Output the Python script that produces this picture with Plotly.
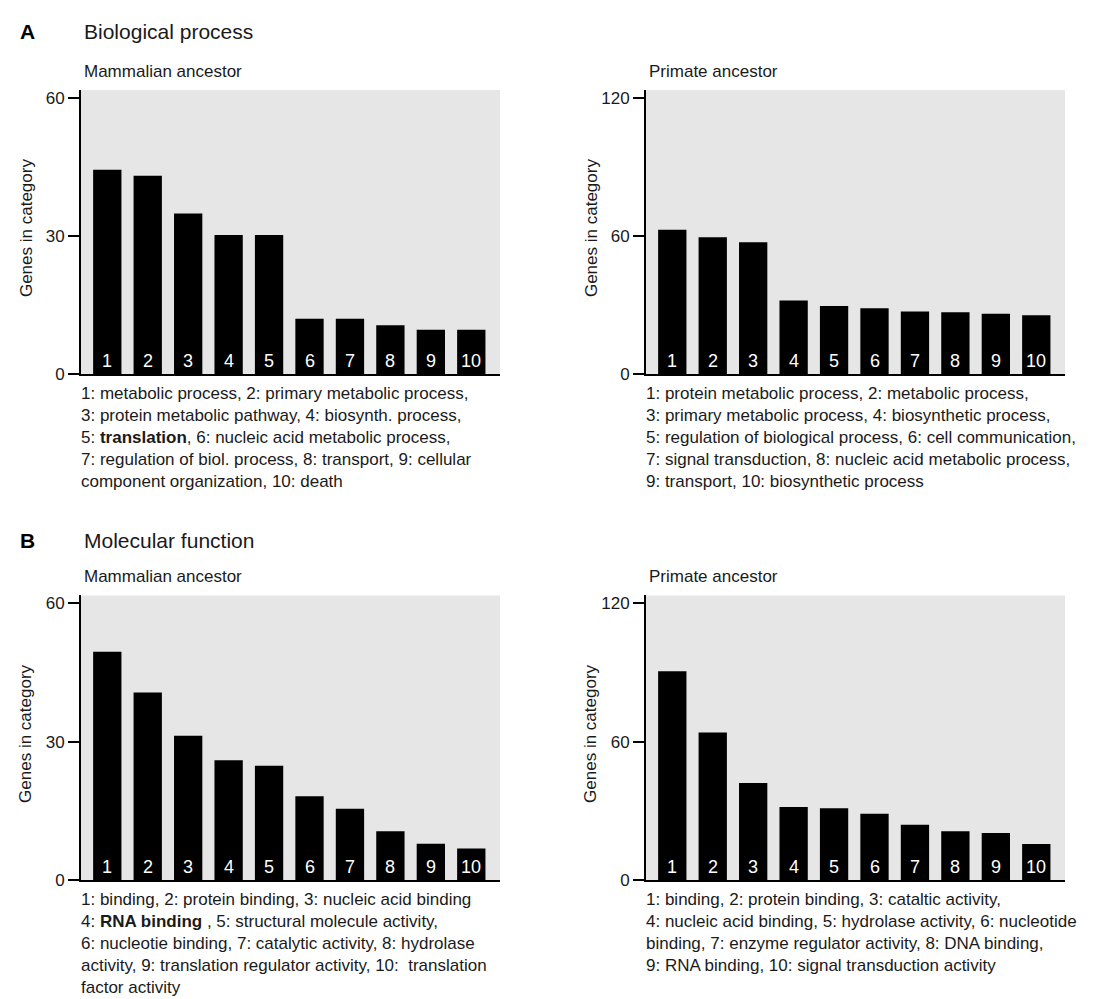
import plotly.graph_objects as go

# ---------------- data ----------------
categories = [1, 2, 3, 4, 5, 6, 7, 8, 9, 10]
category_labels = ["1", "2", "3", "4", "5", "6", "7", "8", "9", "10"]

bio_mammal = [44.4, 43.1, 34.9, 30.2, 30.2, 12.0, 12.0, 10.6, 9.6, 9.6]
bio_primate = [62.7, 59.4, 57.3, 31.9, 29.5, 28.6, 27.1, 26.8, 26.2, 25.5]
mol_mammal = [49.5, 40.7, 31.3, 26.0, 24.8, 18.2, 15.5, 10.6, 7.9, 6.9]
mol_primate = [90.6, 64.0, 42.2, 31.8, 31.2, 28.8, 24.1, 21.3, 20.5, 15.7]

ticks_60 = [0, 30, 60]
ticks_120 = [0, 60, 120]

panel_titles = ["Mammalian ancestor", "Primate ancestor",
                "Mammalian ancestor", "Primate ancestor"]
section_letters = ["A", "B"]
section_titles = ["Biological process", "Molecular function"]
y_title = "Genes in category"

legend_texts = [
    "1: metabolic process, 2: primary metabolic process,<br>"
    "3: protein metabolic pathway, 4: biosynth. process,<br>"
    "5: <b>translation</b>, 6: nucleic acid metabolic process,<br>"
    "7: regulation of biol. process, 8: transport, 9: cellular<br>"
    "component organization, 10: death",
    "1: protein metabolic process, 2: metabolic process,<br>"
    "3: primary metabolic process, 4: biosynthetic process,<br>"
    "5: regulation of biological process, 6: cell communication,<br>"
    "7: signal transduction, 8: nucleic acid metabolic process,<br>"
    "9: transport, 10: biosynthetic process",
    "1: binding, 2: protein binding, 3: nucleic acid binding<br>"
    "4: <b>RNA binding</b> , 5: structural molecule activity,<br>"
    "6: nucleotie binding, 7: catalytic activity, 8: hydrolase<br>"
    "activity, 9: translation regulator activity, 10:  translation<br>"
    "factor activity",
    "1: binding, 2: protein binding, 3: cataltic activity,<br>"
    "4: nucleic acid binding, 5: hydrolase activity, 6: nucleotide<br>"
    "binding, 7: enzyme regulator activity, 8: DNA binding,<br>"
    "9: RNA binding, 10: signal transduction activity",
]

# ---------------- layout geometry (pixels) ----------------
W, H = 1100, 999
FONT = "Arial, Liberation Sans, sans-serif"
TXT = "#1a1a1a"

x_px = [(73, 492), (638, 1057), (73, 492), (638, 1057)]
y_px = [(82, 369), (82, 369), (593, 881), (593, 881)]
series = [bio_mammal, bio_primate, mol_mammal, mol_primate]
tickv = [ticks_60, ticks_120, ticks_60, ticks_120]
ymax = [61.7, 123.4, 61.7, 123.4]


def px(x):
    return x / W


def py(y):
    return 1 - y / H


fig = go.Figure()
annotations = []
layout_axes = {}

for i in range(4):
    n = "" if i == 0 else str(i + 1)
    xa, ya = "x" + n, "y" + n
    fig.add_trace(go.Bar(
        x=categories, y=series[i], xaxis=xa, yaxis=ya,
        marker=dict(color="black", line=dict(width=0)),
        width=0.7, showlegend=False, hoverinfo="x+y",
    ))
    layout_axes["xaxis" + n] = dict(
        domain=[px(x_px[i][0]), px(x_px[i][1])],
        range=[0.35, 10.71], anchor=ya,
        showgrid=False, zeroline=False, showticklabels=False, ticks="",
        showline=True, linecolor="black", linewidth=2, fixedrange=True,
    )
    layout_axes["yaxis" + n] = dict(
        domain=[py(y_px[i][1]), py(y_px[i][0])],
        range=[0, ymax[i]], anchor=xa,
        tickvals=tickv[i], ticktext=[str(v) for v in tickv[i]],
        ticks="outside", ticklen=11, tickwidth=2, tickcolor="black",
        tickfont=dict(size=17, color=TXT, family=FONT),
        showgrid=False, zeroline=False,
        showline=True, linecolor="black", linewidth=2, fixedrange=True,
    )
    # numbers inside bars
    for c, lab in zip(categories, category_labels):
        annotations.append(dict(
            x=c, y=0, xref=xa, yref=ya, text=lab, showarrow=False,
            yanchor="bottom", xanchor="center", yshift=1,
            font=dict(size=18, color="white", family=FONT),
        ))
    # panel subtitle
    annotations.append(dict(
        x=px(x_px[i][0] + 1), y=py(y_px[i][0] - 19), xref="paper", yref="paper",
        text=panel_titles[i], showarrow=False, xanchor="left", yanchor="middle",
        font=dict(size=17, color=TXT, family=FONT),
    ))
    # y-axis title
    annotations.append(dict(
        x=px(x_px[i][0] - 55), y=py((y_px[i][0] + y_px[i][1]) / 2 - 4),
        xref="paper", yref="paper", text=y_title, textangle=-90,
        showarrow=False, xanchor="center", yanchor="middle",
        font=dict(size=17, color=TXT, family=FONT),
    ))
    # category legend text
    annotations.append(dict(
        x=px(x_px[i][0] - 2), y=py(y_px[i][1] + 8), xref="paper", yref="paper",
        text=legend_texts[i], showarrow=False, xanchor="left", yanchor="top",
        align="left", font=dict(size=17, color=TXT, family=FONT),
    ))

# section headings
for k, ycen in enumerate([23, 537]):
    annotations.append(dict(
        x=px(19), y=py(ycen), xref="paper", yref="paper",
        text="<b>" + section_letters[k] + "</b>", showarrow=False,
        xanchor="center", yanchor="middle",
        font=dict(size=21, color="black", family=FONT),
    ))
    annotations.append(dict(
        x=px(74), y=py(ycen), xref="paper", yref="paper",
        text=section_titles[k], showarrow=False,
        xanchor="left", yanchor="middle",
        font=dict(size=21, color=TXT, family=FONT),
    ))

fig.update_layout(
    width=W, height=H,
    margin=dict(l=0, r=0, t=0, b=0),
    paper_bgcolor="white", plot_bgcolor="#e6e6e6",
    font=dict(family=FONT, color=TXT),
    annotations=annotations,
    bargap=0.3,
    **layout_axes,
)

fig.write_html("out.html", config={"displayModeBar": False})
